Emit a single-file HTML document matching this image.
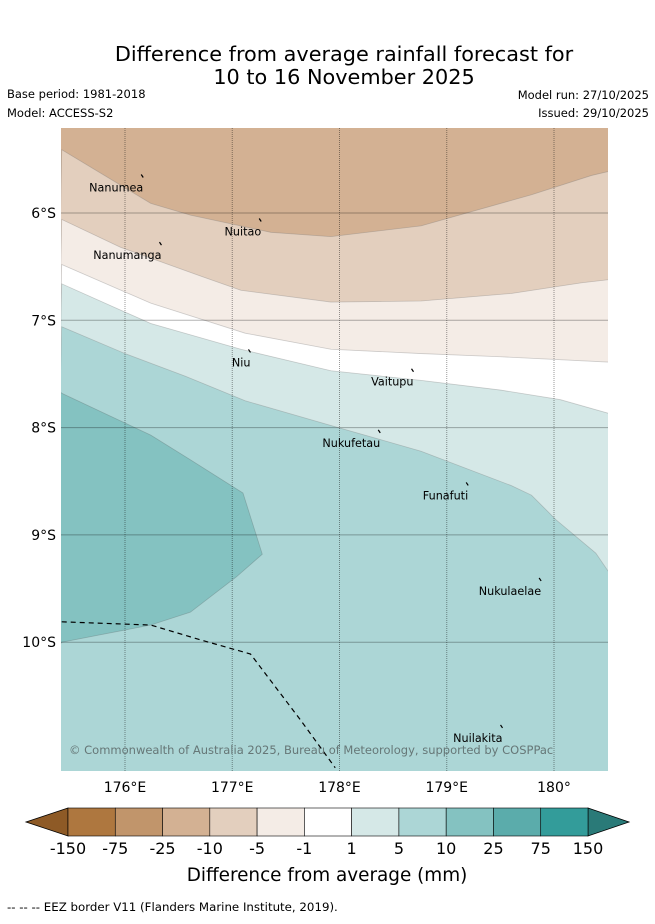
<!DOCTYPE html>
<html><head><meta charset="utf-8"><style>
body{margin:0;background:#fff;width:655px;height:919px;overflow:hidden;font-family:"Liberation Sans","DejaVu Sans",sans-serif}
svg text{font-family:"DejaVu Sans","Liberation Sans",sans-serif}
</style></head><body>
<svg id="chart" width="655" height="919" viewBox="0 0 655 919" xmlns="http://www.w3.org/2000/svg">
<text x="344" y="61" font-size="20.8" text-anchor="middle" fill="#000">Difference from average rainfall forecast for</text>
<text x="344" y="84" font-size="20.8" text-anchor="middle" fill="#000">10 to 16 November 2025</text>
<text x="7" y="98" font-size="11.5">Base period: 1981-2018</text>
<text x="7" y="117" font-size="11.5">Model: ACCESS-S2</text>
<text x="649" y="99" font-size="11.5" text-anchor="end">Model run: 27/10/2025</text>
<text x="649" y="117" font-size="11.5" text-anchor="end">Issued: 29/10/2025</text>
<defs><clipPath id="mapclip"><rect x="61" y="128" width="547" height="643"/></clipPath></defs>
<g id="map" clip-path="url(#mapclip)"></g>
<g id="axes"></g>
<g id="cbar"></g>
<text x="327" y="881" font-size="18.4" text-anchor="middle">Difference from average (mm)</text>
<text x="7" y="911" font-size="11.8">--  --  -- EEZ border V11 (Flanders Marine Institute, 2019).</text>
</svg>
<script>
// Longitude/latitude axis (lat stored as degrees south)
const lonTicks=[176,177,178,179,180];
const lonLabels=["176°E","177°E","178°E","179°E","180°"];
const latTicks=[6,7,8,9,10];
const latLabels=["6°S","7°S","8°S","9°S","10°S"];
// Contour boundaries [lon, latS]; region below each boundary gets the band colour
const bandColors=["#e3cfbe","#f4ece6","#ffffff","#d5e8e7","#acd6d6"];
const boundA=[[175.41,5.41],[176.24,5.91],[176.61,6.02],[177.36,6.18],[177.92,6.22],[178.76,6.12],[179.79,5.83],[180.35,5.65],[180.52,5.61]];
const boundB=[[175.41,6.06],[175.96,6.32],[176.71,6.59],[177.08,6.72],[177.92,6.83],[178.76,6.82],[179.60,6.75],[180.26,6.65],[180.52,6.62]];
const boundC=[[175.41,6.48],[176.24,6.84],[177.12,7.12],[177.92,7.27],[178.76,7.31],[179.50,7.34],[180.52,7.39]];
const boundD=[[175.41,6.66],[176.24,7.03],[177.08,7.27],[177.92,7.47],[178.76,7.56],[179.50,7.65],[180.06,7.74],[180.52,7.87]];
const boundE=[[175.41,7.06],[176.00,7.31],[176.56,7.52],[177.12,7.75],[177.92,7.98],[178.76,8.22],[179.60,8.54],[179.79,8.63],[180.02,8.86],[180.39,9.17],[180.52,9.36]];
const bandF=[[175.41,7.68],[176.24,8.07],[176.61,8.30],[177.10,8.61],[177.28,9.18],[177.04,9.39],[176.61,9.72],[176.24,9.84],[175.41,10.00]];
const bandFColor="#84c2c1";
const eez=[[175.41,9.81],[176.24,9.84],[176.71,9.98],[177.17,10.11],[177.64,10.73],[177.96,11.17]];
const islands=["Nanumea","Nuitao","Nanumanga","Niu","Vaitupu","Nukufetau","Funafuti","Nukulaelae","Nuilakita"];
const islandLon=[176.17,177.27,176.34,177.17,178.69,178.38,179.20,179.88,179.52];
const islandLat=[5.66,6.07,6.29,7.29,7.47,8.04,8.53,9.42,10.79];
const cbTicks=["-150","-75","-25","-10","-5","-1","1","5","10","25","75","150"];
const cbColors=["#ae773f","#c1956b","#d3b193","#e3cfbe","#f4ece6","#ffffff","#d5e8e7","#acd6d6","#84c2c1","#5bacab","#339c9a"];

const NS="http://www.w3.org/2000/svg";
const X=lon=>125+(lon-176)*107.25;
const Y=lat=>213+(lat-6)*107.3;
function mk(tag,attrs,parent){const e=document.createElementNS(NS,tag);for(const k in attrs)e.setAttribute(k,attrs[k]);parent.appendChild(e);return e;}
const map=document.getElementById('map'),axes=document.getElementById('axes'),cb=document.getElementById('cbar');
const bg=mk('rect',{x:61,y:128,width:547,height:643,fill:"#d3b193"},map);


const bounds=[boundA,boundB,boundC,boundD,boundE];
const bandNames=['band-minus10-to-minus5','band-minus5-to-minus1','band-minus1-to-1','band-1-to-5','band-5-to-10'];
bounds.forEach((b,i)=>{
  let d=b.map((p,j)=>(j?'L':'M')+X(p[0])+','+Y(p[1])).join('')+'L620,790L50,790Z';
  const p=mk('path',{d:d,fill:bandColors[i],stroke:"rgba(120,120,120,0.35)","stroke-width":0.8},map);
  
  
});
{
  let d=bandF.map((p,j)=>(j?'L':'M')+X(p[0])+','+Y(p[1])).join('')+'L50,660L50,380Z';
  const p=mk('path',{d:d,fill:bandFColor,stroke:"rgba(100,120,120,0.4)","stroke-width":0.8},map);
  
  
}
lonTicks.forEach((v,i)=>{
  const l=mk('line',{x1:X(v),x2:X(v),y1:128,y2:771,stroke:"rgba(0,0,0,0.4)","stroke-width":1,"stroke-dasharray":"1,1"},map);
  
  
  const t=mk('text',{x:X(v),y:792,"font-size":14,"text-anchor":"middle"},axes);t.textContent=lonLabels[i];
  
  
});
latTicks.forEach((v,i)=>{
  const l=mk('line',{x1:61,x2:608,y1:Y(v),y2:Y(v),stroke:"rgba(0,0,0,0.3)","stroke-width":1},map);
  
  
  const t=mk('text',{x:56,y:Y(v)+5,"font-size":14,"text-anchor":"end"},axes);t.textContent=latLabels[i];
  
  
});
{
  const d=eez.map((p,j)=>(j?'L':'M')+X(p[0])+','+Y(p[1])).join('');
  const p=mk('path',{d:d,fill:"none",stroke:"#000","stroke-width":1.2,"stroke-dasharray":"5,4"},map);
  
  
}
islands.forEach((n,i)=>{
  const x=X(islandLon[i]),y=Y(islandLat[i]);
  const m=mk('path',{d:`M${x-2},${y-2}L${x},${y+1}`,stroke:"#000","stroke-width":1.2},map);
  
  
  const t=mk('text',{x:x,y:y+15,"font-size":11.2,"text-anchor":"end",fill:"#000"},map);t.textContent=n;
  
  
});
{
  const t=mk('text',{x:69,y:754,"font-size":11.5,fill:"#667777"},map);t.textContent="© Commonwealth of Australia 2025, Bureau of Meteorology, supported by COSPPac";
  
  
}
// colorbar
const cbX0=68,cbX1=588,cbY=808,cbH=28,w=(cbX1-cbX0)/cbColors.length;
{
  const a=mk('path',{d:`M${cbX0},${cbY}L26,${cbY+cbH/2}L${cbX0},${cbY+cbH}Z`,fill:"#8e5a26",stroke:"#000","stroke-width":0.8},cb);
  
  
  const b=mk('path',{d:`M${cbX1},${cbY}L629,${cbY+cbH/2}L${cbX1},${cbY+cbH}Z`,fill:"#2a7a78",stroke:"#000","stroke-width":0.8},cb);
  
  
}
cbColors.forEach((c,i)=>{
  const r=mk('rect',{x:cbX0+i*w,y:cbY,width:w,height:cbH,fill:c,stroke:"#000","stroke-width":0.6},cb);
  
  
});
cbTicks.forEach((s,i)=>{
  const t=mk('text',{x:cbX0+i*w,y:854,"font-size":16,"text-anchor":"middle"},cb);t.textContent=s;
  
  
});
</script>
</body></html>
